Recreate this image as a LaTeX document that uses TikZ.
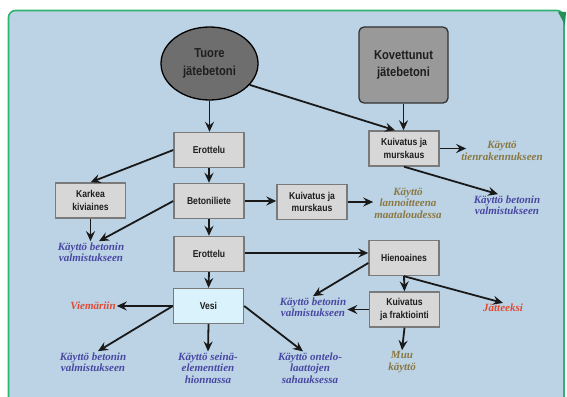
\documentclass[tikz,border=0pt]{standalone}
\usepackage{fontspec}
\usetikzlibrary{arrows.meta,calc,shapes.geometric}
\newfontfamily\boxfont[FakeStretch=0.86]{Liberation Sans}
\newfontfamily\labfont{Liberation Serif}
\definecolor{panel}{HTML}{BCD3E5}
\definecolor{gborder}{HTML}{2FB36E}
\definecolor{boxfill}{HTML}{D7D7D7}
\definecolor{boxline}{HTML}{7A7A7A}
\definecolor{vesifill}{HTML}{D9F2FC}
\definecolor{bluetxt}{HTML}{4848A2}
\definecolor{olivetxt}{HTML}{8A7842}
\definecolor{redtxt}{HTML}{E04A33}
\definecolor{darktxt}{HTML}{1E1E1E}
\tikzset{
  procbox/.style={draw=boxline, line width=1.4pt, fill=boxfill, minimum width=70pt, minimum height=35pt,
    inner sep=1pt, align=center, text=darktxt, font=\boxfont\bfseries\fontsize{10}{12.5}\selectfont},
  bigfont/.style={font=\boxfont\bfseries\fontsize{13}{17.5}\selectfont, text=darktxt, align=center},
  lab/.style={inner sep=1pt, align=center, font=\labfont\bfseries\itshape\fontsize{11}{11.5}\selectfont},
  bluelab/.style={lab, text=bluetxt},
  olivelab/.style={lab, text=olivetxt},
  redlab/.style={lab, text=redtxt},
  conn/.style={line width=1.8pt, draw=black!90, -{Stealth[length=10pt,width=9pt,inset=3.5pt]}}
}
\begin{document}
\begin{tikzpicture}[x=1pt,y=-1pt]
\useasboundingbox (0,0) rectangle (567,396);
% panel
\fill[white] (0,0) rectangle (567,396);
\draw[draw=gborder, line width=1.6pt, fill=panel, rounded corners=7pt]
  (8.5,400) -- (8.5,10.5) -- (564,10.5) -- (564,400);
\fill[gborder!80!black] (558,12) -- (566,12) -- (565,25) -- cycle;

% main nodes
\node[ellipse, draw=black, line width=1.3pt, fill=black!57, minimum width=97pt, minimum height=73pt,
  inner sep=0pt, bigfont] (ell) at (209.5,63.5) {Tuore\\jätebetoni};
\node[draw=black!80, line width=1.3pt, fill=black!40, rounded corners=5pt, minimum width=89pt,
  minimum height=76pt, inner sep=0pt, bigfont] (kov) at (403.5,65) {Kovettunut\\jätebetoni};

\node[procbox] (ero1) at (209,150) {Erottelu};
\node[procbox] (kar) at (90.5,200.5) {Karkea\\kiviaines};
\node[procbox] (bet) at (209,201) {Betoniliete};
\node[procbox] (kuivM) at (312,202) {Kuivatus ja\\murskaus};
\node[procbox] (kuivT) at (404,148.5) {Kuivatus ja\\murskaus};
\node[procbox] (ero2) at (209,254) {Erottelu};
\node[procbox] (hieno) at (404,258) {Hienoaines};
\node[procbox, fill=vesifill] (vesi) at (208.5,306) {Vesi};
\node[procbox] (kuivF) at (404.5,309.5) {Kuivatus\\ja fraktiointi};

% labels
\node[olivelab] (tien) at (502,151) {Käyttö\\tienrakennukseen};
\node[bluelab] (betR) at (507,205) {Käyttö betonin\\valmistukseen};
\node[olivelab] (lann) at (408,203) {Käyttö\\lannoitteena\\maataloudessa};
\node[bluelab] (betL) at (91,252) {Käyttö betonin\\valmistukseen};
\node[bluelab] (betM) at (313,307) {Käyttö betonin\\valmistukseen};
\node[redlab] (viem) at (93,306) {Viemäriin};
\node[bluelab] (betB) at (93,362) {Käyttö betonin\\valmistukseen};
\node[bluelab] (seina) at (208,368) {Käyttö seinä-\\elementtien\\hionnassa};
\node[bluelab] (ontelo) at (310,368) {Käyttö ontelo-\\laattojen\\sahauksessa};
\node[redlab] (jatt) at (503,308) {Jätteeksi};
\node[olivelab] (muu) at (402,362) {Muu\\käyttö};

% connectors
\draw[conn] (ell.south) -- (ell.south |- ero1.north);
\draw[conn] (ell.-28) -- ($(kuivT.north)+(-9,0)$);
\draw[conn] (kov.south) -- (kov.south |- kuivT.north);
\draw[conn] (ero1.west) -- (kar.north);
\draw[conn] (ero1.south) -- (bet.north);
\draw[conn] (kar.south) -- (kar.south |- betL.north);
\draw[conn] (bet.west) -- ($(betL.north)+(8,0)$);
\draw[conn] (bet.east) -- (bet.east -| kuivM.west);
\draw[conn] (kuivM.east) -- (kuivM.east -| lann.west);
\draw[conn] (kuivT.east) -- ($(kuivT.east -| tien.west)+(6,0)$);
\draw[conn] (kuivT.south) -- ($(betR.north)+(-9,0)$);
\draw[conn] (bet.south) -- (ero2.north);
\draw[conn] (ero2.south) -- (vesi.north);
\draw[conn] ($(ero2.east)+(0,-1)$) -- ($(ero2.east -| hieno.west)+(0,-1)$);
\draw[conn] ($(hieno.west)+(0,5)$) -- (betM.north);
\draw[conn] (hieno.south) -- (kuivF.north);
\draw[conn] (hieno.south) -- (jatt.north);
\draw[conn] (kuivF.west) -- (kuivF.west -| betM.east);
\draw[conn] (kuivF.south) -- (muu.north);
\draw[conn] (vesi.west) -- (viem.east);
\draw[conn] (vesi.west) -- ($(betB.north)+(5,0)$);
\draw[conn] (vesi.south) -- (seina.north);
\draw[conn] (vesi.east) -- ($(ontelo.north)+(-7,0)$);
\end{tikzpicture}
\end{document}
